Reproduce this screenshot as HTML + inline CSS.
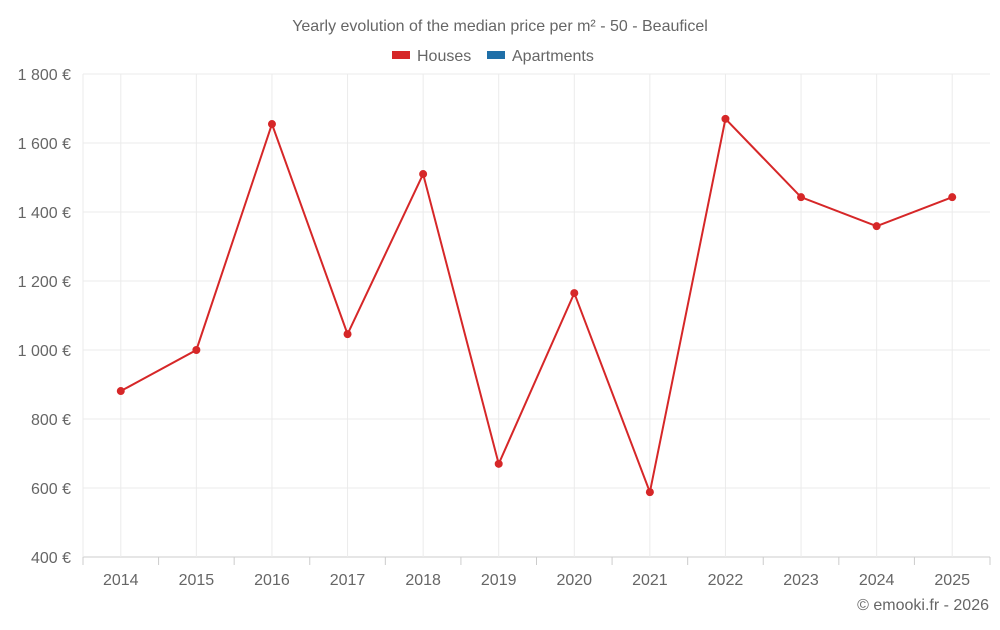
<!DOCTYPE html>
<html><head><meta charset="utf-8"><style>
body{margin:0;background:#fff;font-family:"Liberation Sans",sans-serif;}
svg text{font-family:"Liberation Sans",sans-serif;fill:#666;}
</style></head><body>
<svg id="chart" width="1000" height="625" xmlns="http://www.w3.org/2000/svg">
<text x="500" y="31" text-anchor="middle" font-size="16">Yearly evolution of the median price per m² - 50 - Beauficel</text>
<g>
<g><rect x="392" y="51" width="18" height="8" fill="#d62728"/><text x="417" y="61" font-size="16">Houses</text></g>
<g><rect x="487" y="51" width="18" height="8" fill="#1f6fa8"/><text x="512" y="61" font-size="16">Apartments</text></g>
</g>
<g id="grid"></g><g id="axes"></g><g id="series"></g>
<text x="989" y="610" text-anchor="end" font-size="16">© emooki.fr - 2026</text>
</svg>
<script>
const years=["2014","2015","2016","2017","2018","2019","2020","2021","2022","2023","2024","2025"];
const houses=[881,1000,1655,1046,1510,670,1165,588,1670,1443,1359,1443];
const yTicks=[400,600,800,1000,1200,1400,1600,1800];
const yTickLabels=["400 €","600 €","800 €","1 000 €","1 200 €","1 400 €","1 600 €","1 800 €"];
const L=83,R=990,T=74,B=557,yMin=400,yMax=1800;
const step=(R-L)/years.length;
const xs=i=>L+step*(i+0.5);
const ys=v=>B-(v-yMin)/(yMax-yMin)*(B-T);
const NS="http://www.w3.org/2000/svg";
function mk(tag,attrs,parent){const e=document.createElementNS(NS,tag);for(const k in attrs)e.setAttribute(k,attrs[k]);parent.appendChild(e);return e;}
const grid=document.getElementById('grid'),axes=document.getElementById('axes'),series=document.getElementById('series');
yTicks.forEach((t,i)=>{
 const l=mk('line',{x1:L,x2:R,y1:ys(t),y2:ys(t),stroke:i==0?'#ccc':'#ebebeb','stroke-width':1},grid);
 
 
 const tx=mk('text',{x:71,y:ys(t)+6,'text-anchor':'end','font-size':16},axes);
 tx.textContent=yTickLabels[i];
 
 
});
mk('line',{x1:L,x2:L,y1:T,y2:B,stroke:'#ebebeb'},grid);
years.forEach((y,i)=>{
 const g=mk('line',{x1:xs(i),x2:xs(i),y1:T,y2:B,stroke:'#ebebeb'},grid);
 
 
 mk('line',{x1:L+step*(i+1),x2:L+step*(i+1),y1:B,y2:B+8,stroke:'#ccc'},axes);
 const tx=mk('text',{x:xs(i),y:585,'text-anchor':'middle','font-size':16},axes);
 tx.textContent=y;
 
 
});
mk('line',{x1:L,x2:L,y1:B,y2:B+8,stroke:'#ccc'},axes);
const line=mk('polyline',{points:houses.map((v,i)=>xs(i)+','+ys(v)).join(' '),fill:'none',stroke:'#d62728','stroke-width':2},series);


houses.forEach((v,i)=>{
 const c=mk('circle',{cx:xs(i),cy:ys(v),r:4,fill:'#d62728'},series);
 
 
});
</script>
</body></html>
